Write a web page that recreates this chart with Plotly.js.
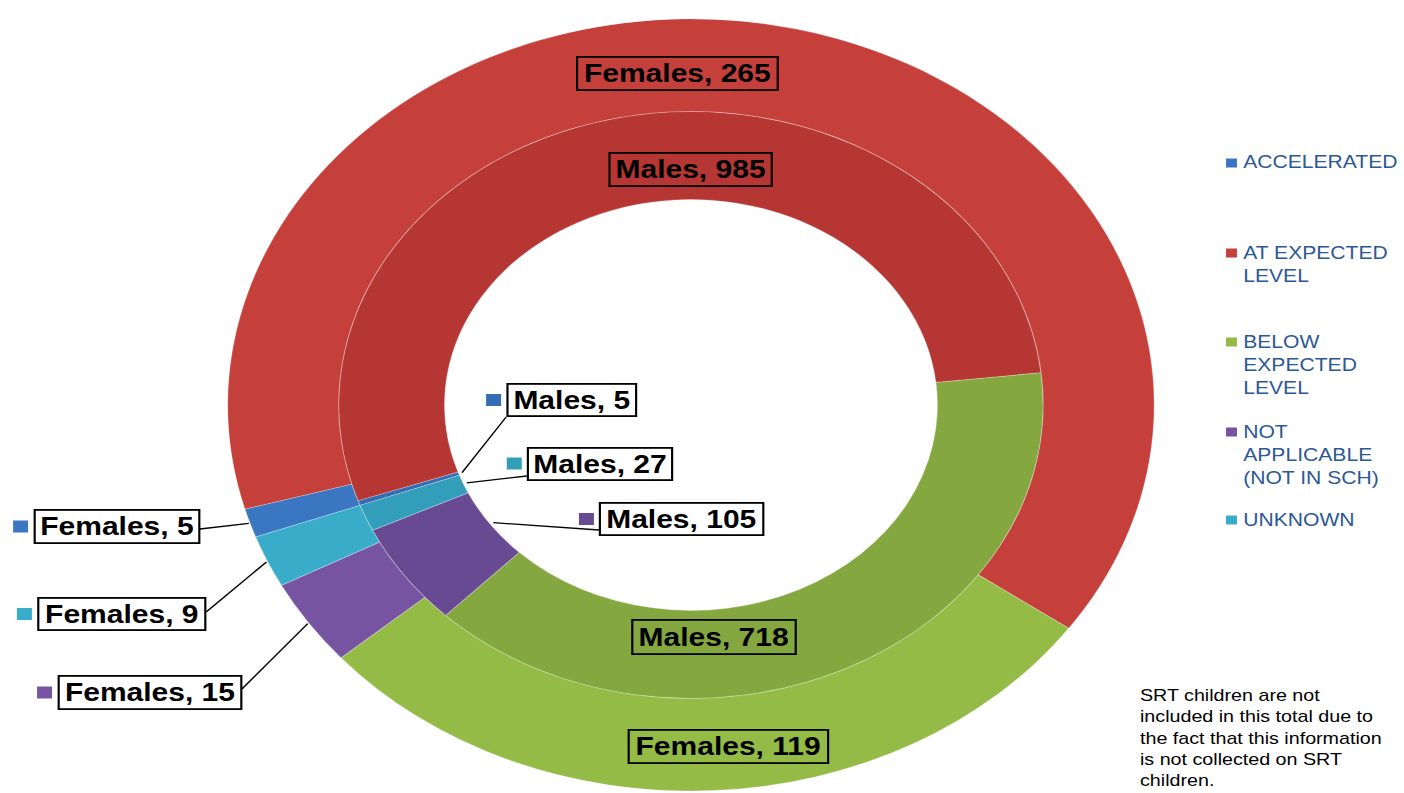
<!DOCTYPE html>
<html>
<head>
<meta charset="utf-8">
<script src="https://cdn.plot.ly/plotly-3.0.1.min.js"></script>
<style>
  html, body { margin: 0; padding: 0; background: #ffffff; overflow: hidden; }
  #wrap { width: 1404px; height: 793px; overflow: hidden; position: relative; }
  #chart { width: 1170px; height: 793px; transform: scaleX(1.2); transform-origin: 0 0; }
</style>
</head>
<body>
<div id="wrap"><div id="chart"></div></div>
<script>
// ---------------- data ----------------
const categories = ['ACCELERATED', 'AT EXPECTED LEVEL', 'BELOW EXPECTED LEVEL', 'NOT APPLICABLE (NOT IN SCH)', 'UNKNOWN'];
const legendLabels = ['ACCELERATED', 'AT EXPECTED<br>LEVEL', 'BELOW<br>EXPECTED<br>LEVEL', 'NOT<br>APPLICABLE<br>(NOT IN SCH)', 'UNKNOWN'];
const females = [5, 265, 119, 15, 9];   // outer ring
const males = [5, 985, 718, 105, 27];   // inner ring
const seriesNames = ['Females', 'Males'];
const footnote = 'SRT children are not<br>included in this total due to<br>the fact that this information<br>is not collected on SRT<br>children.';

// ---------------- styles / layout constants ----------------
const W = 1170, H = 793;
const CX = 575.8, CY = 405, R_OUT = 386, R_IN = 293.4, R_HOLE = 205.4;
const ROT = 250;
const outerColors = ['#3A76C2', '#C53F3B', '#93BB46', '#7654A2', '#38ACC9'];
const innerColors = ['#346DB4', '#B53632', '#84A73F', '#684A93', '#329EBA'];
const FONT = 'Liberation Sans, Arial, Helvetica, sans-serif';
const LEGEND_COLOR = '#2C5895';

// label boxes: centre in plot px, size, background, leader start (side + vertical offset)
const labelBoxes = [
  {series: 'Females', idx: 1, x: 564.6, y: 73.5,  w: 169,   h: 35, bg: false, lead: null},
  {series: 'Males',   idx: 1, x: 575.0, y: 169.5, w: 137,   h: 35, bg: false, lead: null},
  {series: 'Males',   idx: 0, x: 476.3, y: 400.0, w: 109,   h: 34, bg: true,  lead: {side: -1, dy: 17}},
  {series: 'Males',   idx: 4, x: 500.0, y: 463.5, w: 122,   h: 34, bg: true,  lead: {side: -1, dy: 12.5}},
  {series: 'Males',   idx: 3, x: 567.9, y: 519.0, w: 137.5, h: 34, bg: true,  lead: {side: -1, dy: 11}},
  {series: 'Males',   idx: 2, x: 595.4, y: 637.0, w: 137.5, h: 36, bg: false, lead: null},
  {series: 'Females', idx: 2, x: 607.0, y: 746.5, w: 167.5, h: 35, bg: false, lead: null},
  {series: 'Females', idx: 0, x: 97.1,  y: 526.5, w: 139,   h: 35, bg: true,  lead: {side: 1, dy: 2.5}},
  {series: 'Females', idx: 4, x: 101.3, y: 614.0, w: 141,   h: 34, bg: true,  lead: {side: 1, dy: -2}},
  {series: 'Females', idx: 3, x: 124.6, y: 692.5, w: 154,   h: 35, bg: true,  lead: {side: 1, dy: -3.5}}
];
const legendY = [163, 253, 342, 432, 520];   // first-line centres (plot px)
const LEGEND_X = 1034.5;

// ---------------- helpers ----------------
const seriesValues = {Females: females, Males: males};
const seriesColors = {Females: outerColors, Males: innerColors};
const px = x => x / W;
const py = y => 1 - y / H;

function domainFor(r) {
  return {x: [px(CX - r), px(CX + r)], y: [py(CY + r), py(CY - r)]};
}
function sliceTip(series, idx) {
  const vals = seriesValues[series];
  const total = vals.reduce((a, b) => a + b, 0);
  let cum = 0;
  for (let k = 0; k < idx; k++) cum += vals[k];
  const ang = (ROT + (cum + vals[idx] / 2) / total * 360) * Math.PI / 180;
  const r = series === 'Females' ? R_OUT + 1 : R_HOLE - 3;
  return [CX + r * Math.sin(ang), CY - r * Math.cos(ang)];
}

// ---------------- traces ----------------
const outer = {
  type: 'pie', name: 'Females', labels: categories, values: females,
  hole: R_IN / R_OUT, domain: domainFor(R_OUT), sort: false, direction: 'clockwise', rotation: ROT,
  textinfo: 'none', hoverinfo: 'label+value', showlegend: false,
  marker: {colors: outerColors, line: {color: 'rgba(255,255,255,0.25)', width: 1}}
};
const inner = {
  type: 'pie', name: 'Males', labels: categories, values: males,
  hole: R_HOLE / R_IN, domain: domainFor(R_IN), sort: false, direction: 'clockwise', rotation: ROT,
  textinfo: 'none', hoverinfo: 'label+value', showlegend: false,
  marker: {colors: innerColors, line: {color: 'rgba(255,255,255,0.25)', width: 1}}
};

// ---------------- annotations & shapes ----------------
const annotations = [];
const shapes = [];
const BW = 1.8;
labelBoxes.forEach(b => {
  // leader line (drawn first so the box sits on top)
  if (b.lead) {
    const tip = sliceTip(b.series, b.idx);
    const sx = b.x + b.lead.side * b.w / 2, sy = b.y + b.lead.dy;
    shapes.push({type: 'line', xref: 'paper', yref: 'paper', layer: 'above',
      x0: px(sx), y0: py(sy), x1: px(tip[0]), y1: py(tip[1]),
      line: {color: '#000000', width: 1.3}});
  }
  annotations.push({
    text: '<b>' + b.series + ', ' + seriesValues[b.series][b.idx] + '</b>',
    xref: 'paper', yref: 'paper', x: px(b.x), y: py(b.y), showarrow: false,
    font: {family: FONT, size: 25, color: '#000000'},
    bordercolor: '#000000', borderwidth: BW, borderpad: 0,
    bgcolor: b.bg ? '#ffffff' : 'rgba(0,0,0,0)',
    width: b.w - 2 * BW, height: b.h - 2 * BW, align: 'center', valign: 'middle',
    xanchor: 'center', yanchor: 'middle'
  });
  // small colour key to the left of the box
  const x1 = b.x - b.w / 2 - 4.2, x0 = x1 - 12.5;
  shapes.push({type: 'rect', xref: 'paper', yref: 'paper', layer: 'above', x0: px(x0), x1: px(x1),
    y0: py(b.y + 6), y1: py(b.y - 6), fillcolor: seriesColors[b.series][b.idx], line: {width: 0}});
});

// legend (as annotations + keys)
legendLabels.forEach((lab, i) => {
  annotations.push({
    text: lab, xref: 'paper', yref: 'paper', x: px(LEGEND_X), y: py(legendY[i] - 11.5),
    xanchor: 'left', yanchor: 'top', align: 'left', showarrow: false, borderpad: 0,
    font: {family: FONT, size: 17.6, color: LEGEND_COLOR}
  });
  shapes.push({type: 'rect', xref: 'paper', yref: 'paper', x0: px(1021.7), x1: px(1030.8),
    y0: py(legendY[i] + 4.5), y1: py(legendY[i] - 4.5), fillcolor: outerColors[i], line: {width: 0}});
});

// footnote
annotations.push({
  text: footnote, xref: 'paper', yref: 'paper', x: px(949), y: py(685),
  xanchor: 'left', yanchor: 'top', align: 'left', showarrow: false, borderpad: 0,
  font: {family: FONT, size: 16.4, color: '#000000'}
});

const layout = {
  width: W, height: H, margin: {l: 0, r: 0, t: 0, b: 0},
  paper_bgcolor: '#ffffff', plot_bgcolor: '#ffffff',
  showlegend: false, annotations: annotations, shapes: shapes,
  font: {family: FONT}
};

Plotly.newPlot('chart', [outer, inner], layout, {displayModeBar: false, staticPlot: true});
</script>
</body>
</html>
